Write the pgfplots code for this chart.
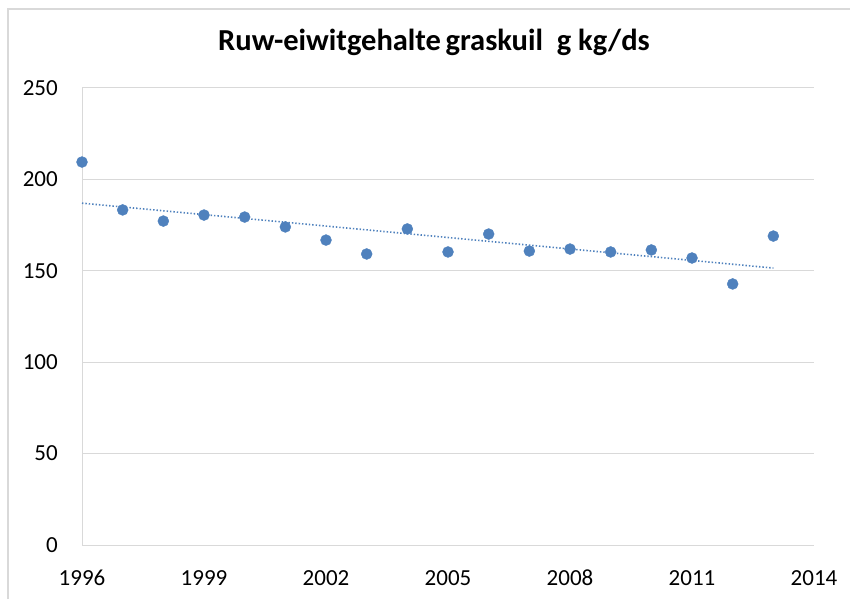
\documentclass[border=0pt]{standalone}
\usepackage{pgfplots}
\pgfplotsset{compat=1.18}
\usepackage{fontspec}
\setmainfont{Carlito}
\definecolor{ptblue}{HTML}{4F81BD}
\definecolor{gridc}{HTML}{D9D9D9}
\begin{document}
\begin{tikzpicture}[x=1pt,y=1pt]
\useasboundingbox (0,0) rectangle (850,599);
\draw[gridc, line width=1.6pt] (8,0) -- (8,590) -- (850,590);
\node[font=\fontsize{30.5}{34}\selectfont\bfseries] at (434,557) {Ruw-eiwitgehalte\hspace{0.15em}graskuil\ \ g kg/ds};
\begin{axis}[
  at={(82pt,54pt)}, anchor=south west,
  scale only axis, width=732pt, height=457pt,
  xmin=1996, xmax=2014, ymin=0, ymax=250,
  xtick={1996,1999,2002,2005,2008,2011,2014},
  ytick={0,50,100,150,200,250},
  axis x line*=bottom, axis y line*=left,
  axis line style={gridc, line width=1pt, -},
  major tick length=0pt,
  ymajorgrids, grid style={gridc, line width=1pt},
  tick label style={font=\fontsize{23}{27}\selectfont, inner sep=0pt},
  /pgf/number format/assume math mode=true,
  /pgf/number format/1000 sep={},
  xticklabel shift=25pt,
  yticklabel shift=24pt,
  clip=false,
]
\addplot[ptblue, line width=1.6pt, dash pattern=on 1.4pt off 2pt] coordinates {(1996,187) (2013,151.5)};
\addplot[only marks, mark=*, mark size=5.5pt, mark options={draw=ptblue, fill=ptblue}] coordinates {
(1996,209.5) (1997,183.3) (1998,177.2) (1999,180.5) (2000,179.4) (2001,174)
(2002,166.8) (2003,159.2) (2004,172.9) (2005,160.3) (2006,170.1) (2007,160.8)
(2008,161.9) (2009,160.3) (2010,161.4) (2011,157) (2012,142.8) (2013,169)
};
\end{axis}
\end{tikzpicture}
\end{document}
